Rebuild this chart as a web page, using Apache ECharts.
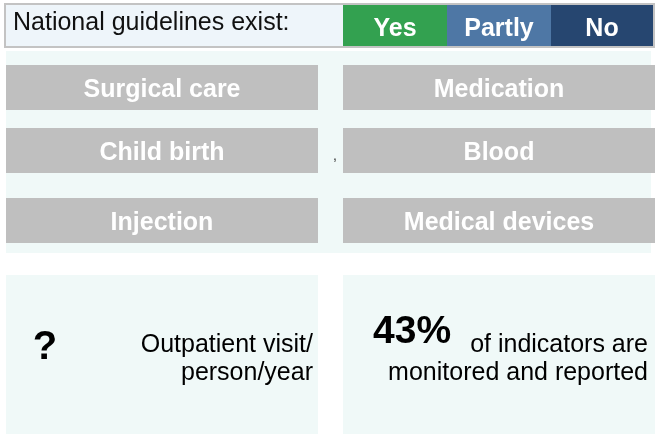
<!DOCTYPE html>
<html>
<head>
<meta charset="utf-8">
<script src="https://cdn.jsdelivr.net/npm/echarts@6/dist/echarts.min.js"></script>
<style>
  html, body { margin: 0; padding: 0; background: #fff; }
  #main { width: 660px; height: 434px; }
</style>
</head>
<body>
<div id="main"></div>
<script>
// data
var headerTitle = 'National guidelines exist:';
var levels = ['Yes', 'Partly', 'No'];
var levelColors = ['#33a150', '#4e77a5', '#264670'];
var areas = ['Surgical care', 'Medication', 'Child birth', 'Blood', 'Injection', 'Medical devices'];
var visitValue = '?';
var visitLabel = ['Outpatient visit/', 'person/year'];
var indicatorValue = '43%';
var indicatorLabel = ['of indicators are', 'monitored and reported'];

var FONT = 'Arial, "Liberation Sans", sans-serif';
var colX = [6, 343];
var colW = 312;
var rowY = [65, 128, 198];
var tileH = 45;

var myChart = echarts.init(document.getElementById('main'), null, {renderer: 'canvas'});

var elements = [];

// header bar
elements.push({
    type: 'rect',
    shape: {x: 5, y: 4, width: 649, height: 43},
    style: {fill: '#eef5fa', stroke: '#c3c3c3', lineWidth: 2}
});
elements.push({
    type: 'text',
    style: {
        text: headerTitle, x: 13, y: 23, fill: '#111',
        font: '25px ' + FONT, textVerticalAlign: 'middle'
    }
});
levels.forEach(function (lv, i) {
    var x0 = 343 + i * 104;
    var w = i == 2 ? 102 : 104;
    elements.push({
        type: 'rect',
        shape: {x: x0, y: 5, width: w, height: 41},
        style: {fill: levelColors[i]}
    });
    elements.push({
        type: 'text',
        style: {
            text: lv, x: x0 + w / 2, y: 29, fill: '#fff',
            font: 'bold 25px ' + FONT, textAlign: 'center', textVerticalAlign: 'middle'
        }
    });
});

// band behind the area tiles
elements.push({
    type: 'rect',
    shape: {x: 6, y: 51, width: 645, height: 202},
    style: {fill: '#f0f9f8'}
});

areas.forEach(function (name, i) {
    var c = i % 2, r = Math.floor(i / 2);
    elements.push({
        type: 'rect',
        shape: {x: colX[c], y: rowY[r], width: colW, height: tileH},
        style: {fill: '#bfbfbf'}
    });
    elements.push({
        type: 'text',
        style: {
            text: name, x: colX[c] + colW / 2, y: rowY[r] + tileH / 2 + 3, fill: '#fff',
            font: 'bold 25px ' + FONT, textAlign: 'center', textVerticalAlign: 'middle'
        }
    });
});

// stray comma in the original
elements.push({
    type: 'text',
    style: {text: ',', x: 335, y: 156, fill: '#333', font: '14px ' + FONT, textAlign: 'center', textVerticalAlign: 'middle'}
});

// bottom boxes
colX.forEach(function (x) {
    elements.push({
        type: 'rect',
        shape: {x: x, y: 275, width: colW, height: 159},
        style: {fill: '#f0f9f8'}
    });
});

elements.push({
    type: 'text',
    style: {text: visitValue, x: 45, y: 348, fill: '#000', font: 'bold 40px ' + FONT, textAlign: 'center', textVerticalAlign: 'middle'}
});
visitLabel.forEach(function (t, i) {
    elements.push({
        type: 'text',
        style: {text: t, x: 313, y: 345 + i * 28, fill: '#000', font: '25px ' + FONT, textAlign: 'right', textVerticalAlign: 'middle'}
    });
});
elements.push({
    type: 'text',
    style: {text: indicatorValue, x: 373, y: 332, fill: '#000', font: 'bold 39px ' + FONT, textAlign: 'left', textVerticalAlign: 'middle'}
});
indicatorLabel.forEach(function (t, i) {
    elements.push({
        type: 'text',
        style: {text: t, x: 648, y: 345 + i * 28, fill: '#000', font: '25px ' + FONT, textAlign: 'right', textVerticalAlign: 'middle'}
    });
});

myChart.setOption({
    animation: false,
    backgroundColor: '#fff',
    graphic: {elements: elements}
});
</script>
</body>
</html>
